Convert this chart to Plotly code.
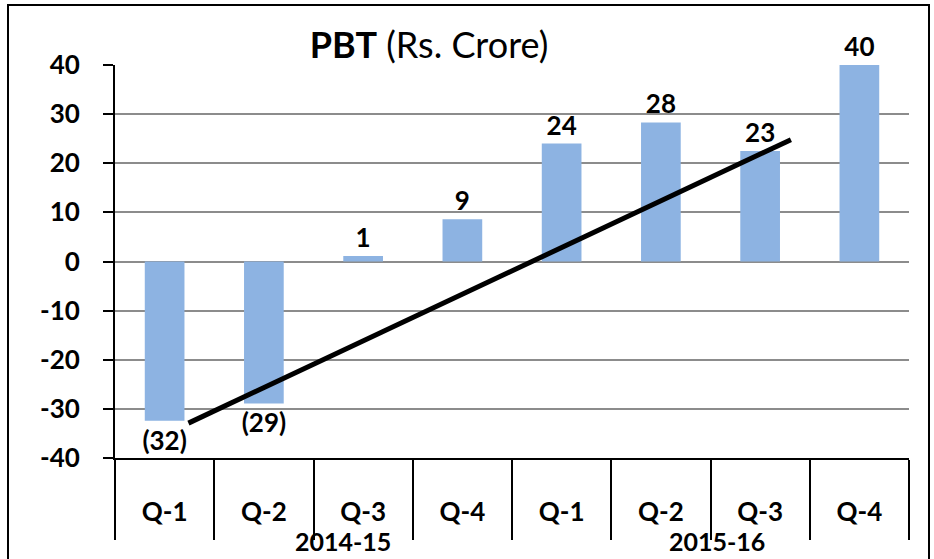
import plotly.graph_objects as go

# ---- data ----
quarters = ["Q-1", "Q-2", "Q-3", "Q-4", "Q-1", "Q-2", "Q-3", "Q-4"]
years = ["2014-15", "2015-16"]
year_label_pos = [1.8, 5.57]
pbt = [-32.4, -28.9, 1.1, 8.6, 24.0, 28.3, 22.5, 40.0]
trend_x = [0.24, 6.31]
trend_y = [-32.9, 24.8]
y_ticks = [-40, -30, -20, -10, 0, 10, 20, 30, 40]

FONT = "Lato"
BAR_COLOR = "#8DB3E2"
GRID = "#8C8C8C"
FS = 26


def fmt(v):
    n = int(abs(v) + 0.5)
    return f"({n})" if v < 0 else f"{n}"


x_idx = list(range(len(quarters)))
labels = [fmt(v) for v in pbt]

fig = go.Figure()
fig.add_trace(go.Bar(
    x=x_idx, y=pbt, width=0.4,
    marker=dict(color=BAR_COLOR, line=dict(width=0)),
    text=labels, textposition="outside", constraintext="none",
    textfont=dict(family=FONT, size=FS, color="black", weight="bold"),
    cliponaxis=False, hoverinfo="skip",
))
fig.add_trace(go.Scatter(
    x=trend_x, y=trend_y, mode="lines",
    line=dict(color="black", width=5), hoverinfo="skip",
))

L, R, T, B = 115, 25, 65, 101
W, H = 934, 559
pw, ph = W - L - R, H - T - B

fig.update_layout(
    width=W, height=H,
    margin=dict(l=L, r=R, t=T, b=B, pad=0),
    paper_bgcolor="white", plot_bgcolor="white",
    showlegend=False,
    font=dict(family=FONT, color="black"),
    title=dict(
        text="<b>PBT</b> (Rs. Crore)",
        font=dict(family=FONT, size=36, color="black"),
        x=429 / W, xanchor="center", xref="container",
        y=1 - 45 / H, yanchor="middle", yref="container",
    ),
    xaxis=dict(
        range=[-0.5, len(quarters) - 0.5],
        tickvals=x_idx, ticktext=quarters,
        ticks="", showgrid=False, zeroline=False,
        showline=True, linecolor="black", linewidth=2,
        tickfont=dict(family=FONT, size=FS, color="black", weight="bold"),
        ticklabelstandoff=30,
        minor=dict(
            tickvals=[i - 0.5 for i in range(len(quarters) + 1)],
            ticks="outside", ticklen=80, tickwidth=2, tickcolor="black",
            showgrid=False,
        ),
        automargin=False, fixedrange=True,
    ),
    yaxis=dict(
        range=[-40, 40],
        tickvals=y_ticks, ticktext=[str(v) for v in y_ticks],
        ticks="outside", ticklen=10, tickwidth=2, tickcolor="black",
        showgrid=True, gridcolor=GRID, gridwidth=2,
        zeroline=True, zerolinecolor=GRID, zerolinewidth=2,
        showline=True, linecolor="black", linewidth=2,
        tickfont=dict(family=FONT, size=FS, color="black", weight="bold"),
        ticklabelstandoff=18,
        automargin=False, fixedrange=True,
    ),
    annotations=[
        dict(x=xp, xref="x", y=-(H - 1 - (T + ph)) / ph, yref="paper",
             text=f"<b>{yr}</b>", showarrow=False,
             xanchor="center", yanchor="bottom",
             font=dict(family=FONT, size=FS - 1, color="black"))
        for yr, xp in zip(years, year_label_pos)
    ],
    shapes=[
        dict(type="rect", xref="paper", yref="paper",
             x0=(8 - L) / pw, x1=(929 - L) / pw,
             y0=-(H + 10 - (T + ph)) / ph, y1=1 + (T - 5) / ph,
             line=dict(color="black", width=2), fillcolor="rgba(0,0,0,0)",
             layer="below"),
    ],
)

fig.write_html(
    "out.html",
    config={"displayModeBar": False},
    post_script="document.body.style.margin='0';document.body.style.overflow='hidden';",
)
